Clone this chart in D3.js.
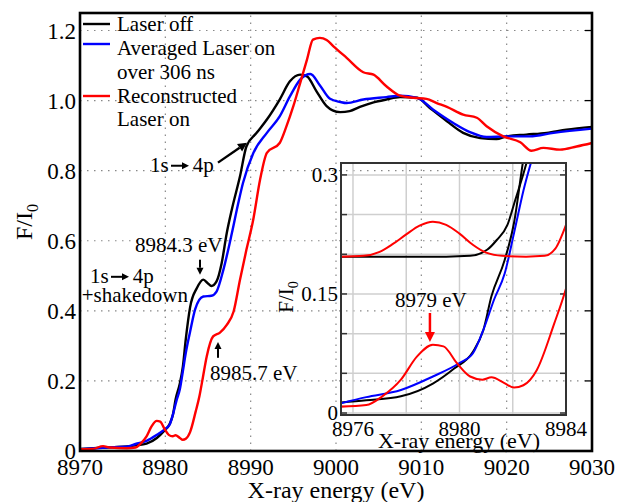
<!DOCTYPE html>
<html>
<head>
<meta charset="UTF-8">
<script src="https://d3js.org/d3.v7.min.js"></script>
</head>
<body style="margin:0">
<script>
// ---- data ----
const offE = [8970, 8972, 8974, 8975.5, 8976.5, 8977.8, 8979, 8979.8, 8980.5, 8980.9, 8981.2, 8981.7, 8982.05, 8982.4, 8982.9, 8983.7, 8984.45, 8985, 8985.4, 8986, 8986.6, 8987.2, 8987.8, 8988.75, 8989.5, 8990.7, 8991.9, 8993.4, 8994.6, 8995.8, 8996.6, 8997.7, 8998.9, 8999.6, 9000.5, 9001.6, 9002.8, 9004.4, 9005.9, 9007.5, 9009.5, 9011, 9013, 9014.9, 9016.9, 9018.8, 9020, 9022.3, 9024.7, 9027, 9030];
const offF = [0.006, 0.009, 0.011, 0.013, 0.016, 0.021, 0.037, 0.056, 0.077, 0.105, 0.147, 0.193, 0.24, 0.32, 0.41, 0.465, 0.489, 0.478, 0.471, 0.484, 0.536, 0.622, 0.69, 0.784, 0.869, 0.908, 0.946, 1.003, 1.055, 1.074, 1.069, 1.027, 0.984, 0.972, 0.967, 0.97, 0.982, 0.995, 1.003, 1.01, 1.008, 0.979, 0.941, 0.908, 0.893, 0.89, 0.898, 0.903, 0.908, 0.917, 0.925];

const avgE = [8970, 8972, 8974, 8975.5, 8976.5, 8977.8, 8979, 8980, 8980.5, 8980.9, 8981.3, 8981.7, 8982.05, 8982.4, 8982.9, 8983.5, 8984.45, 8985.4, 8986, 8986.8, 8987.8, 8988.55, 8989.1, 8990.3, 8991.9, 8993.4, 8994.6, 8995.8, 8997, 8998.1, 8999.3, 9000.5, 9001.25, 9003.2, 9005.9, 9007.5, 9009.5, 9011.4, 9013.75, 9015.7, 9017.65, 9020, 9022.7, 9025.5, 9030];
const avgF = [0.005, 0.008, 0.011, 0.012, 0.02, 0.029, 0.046, 0.063, 0.075, 0.105, 0.143, 0.176, 0.227, 0.28, 0.34, 0.405, 0.441, 0.443, 0.455, 0.517, 0.622, 0.708, 0.765, 0.85, 0.908, 0.955, 1.012, 1.06, 1.076, 1.044, 1.005, 0.996, 0.993, 1.003, 1.01, 1.014, 1.008, 0.974, 0.936, 0.91, 0.896, 0.898, 0.898, 0.908, 0.92];

const recE = [8970, 8971.5, 8972.7, 8973.5, 8975.5, 8976.5, 8977.1, 8977.8, 8978.4, 8979, 8979.4, 8979.9, 8980.4, 8980.86, 8981.2, 8981.67, 8982.05, 8982.4, 8982.9, 8983.56, 8984, 8984.4, 8984.85, 8985.6, 8986.4, 8987.2, 8988, 8988.75, 8989.5, 8990.3, 8991.1, 8991.9, 8993.4, 8994.2, 8995, 8995.8, 8996.6, 8997.3, 8998.1, 8998.9, 8999.7, 9001.25, 9003.2, 9004.4, 9005.9, 9007.5, 9009.1, 9010.6, 9011.8, 9013, 9014.9, 9016.5, 9017.65, 9019.6, 9021.6, 9022.9, 9024.3, 9026.25, 9028.2, 9030];
const recF = [0.005, 0.006, 0.014, 0.01, 0.008, 0.01, 0.021, 0.042, 0.071, 0.086, 0.084, 0.063, 0.046, 0.042, 0.045, 0.038, 0.032, 0.035, 0.054, 0.113, 0.157, 0.21, 0.27, 0.327, 0.338, 0.36, 0.398, 0.489, 0.574, 0.66, 0.774, 0.851, 0.879, 0.927, 0.984, 1.05, 1.117, 1.174, 1.179, 1.173, 1.155, 1.122, 1.081, 1.074, 1.041, 1.014, 1.008, 1.005, 0.993, 0.982, 0.96, 0.951, 0.927, 0.898, 0.881, 0.857, 0.865, 0.86, 0.869, 0.879];

// inset: fitted components, shifted up by 0.2
const fitOffE = [8975.5, 8979.5, 8980.4, 8981.05, 8981.4, 8981.8, 8982.1, 8982.37, 8982.6];
const fitOffF = [0.197, 0.197, 0.198, 0.206, 0.218, 0.237, 0.269, 0.298, 0.325];
const fitRecE = [8975.5, 8976.4, 8977, 8977.5, 8978, 8978.5, 8979, 8979.5, 8980, 8980.5, 8981, 8981.6, 8982.5, 8983.2, 8983.6, 8984];
const fitRecF = [0.197, 0.198, 0.203, 0.213, 0.225, 0.236, 0.241, 0.237, 0.226, 0.212, 0.202, 0.198, 0.197, 0.198, 0.207, 0.237];

const xTicks = [8970, 8980, 8990, 9000, 9010, 9020, 9030];
const yTicks = [0, 0.2, 0.4, 0.6, 0.8, 1.0, 1.2];
const yTickLabels = ["0", "0.2", "0.4", "0.6", "0.8", "1.0", "1.2"];
const insetXTicks = [8976, 8980, 8984];
const insetXGrid = [8976, 8978, 8980, 8982, 8984];
const insetYTicks = [0, 0.15, 0.3];
const insetYTickLabels = ["0", "0.15", "0.3"];
const insetYGrid = [0, 0.05, 0.1, 0.15, 0.2, 0.25, 0.3];

const legendNames = [["Laser off"], ["Averaged Laser on", "over 306 ns"], ["Reconstructed", "Laser on"]];
const colors = ["#000000", "#0000ff", "#ff0000"];

const FONT = "Liberation Serif";

// ---- layout ----
const W = 621, H = 502;
const svg = d3.select("body").append("svg").attr("width", W).attr("height", H);

const x = d3.scaleLinear().domain([8970, 9030]).range([80, 592]);
const y = d3.scaleLinear().domain([0, 1.25]).range([451, 13]);

const line = d3.line().x(d => x(d[0])).y(d => y(d[1])).curve(d3.curveMonotoneX);
const zip = (a, b) => a.map((v, i) => [v, b[i]]);

function txt(parent, px, py, size, s) {
    return parent.append("text").attr("x", px).attr("y", py)
        .attr("font-family", FONT).attr("font-size", size).text(s);
}

// main grid (dotted)
const grid = svg.append("g").attr("stroke", "#888").attr("stroke-width", 1.2).attr("stroke-dasharray", "1.5,5.5");
grid.selectAll(".gx").data(xTicks.slice(1, -1)).join("line").attr("class", "gx")
    .attr("x1", d => x(d)).attr("x2", d => x(d)).attr("y1", y.range()[0]).attr("y2", y.range()[1]);
grid.selectAll(".gy").data(yTicks.slice(1)).join("line").attr("class", "gy")
    .attr("x1", x.range()[0]).attr("x2", x.range()[1]).attr("y1", d => y(d)).attr("y2", d => y(d));

// ---- inset ----
const ix = d3.scaleLinear().domain([8975.55, 8984]).range([341, 566]);
const iy = d3.scaleLinear().domain([-0.0025, 0.315]).range([415, 163]);
const iline = d3.line().x(d => ix(d[0])).y(d => iy(d[1])).curve(d3.curveMonotoneX);

const ig = svg.append("g");
svg.append("clipPath").attr("id", "iclip").append("rect")
    .attr("x", 341).attr("y", 163).attr("width", 225).attr("height", 252);

const igrid = ig.append("g").attr("stroke", "#cfcfcf").attr("stroke-width", 1.5);
igrid.selectAll(".a").data(insetXGrid).join("line").attr("class", "a")
    .attr("x1", d => ix(d)).attr("x2", d => ix(d)).attr("y1", 415).attr("y2", 163);
igrid.selectAll(".b").data(insetYGrid).join("line").attr("class", "b")
    .attr("x1", 341).attr("x2", 566).attr("y1", d => iy(d)).attr("y2", d => iy(d));

// inward ticks on inset
ig.selectAll(".tl").data(insetYGrid).join("line").attr("class", "tl")
    .attr("x1", 341).attr("x2", 347).attr("y1", d => iy(d)).attr("y2", d => iy(d))
    .attr("stroke", "#333").attr("stroke-width", 1.5);
ig.selectAll(".tr").data(insetYGrid).join("line").attr("class", "tr")
    .attr("x1", 560).attr("x2", 566).attr("y1", d => iy(d)).attr("y2", d => iy(d))
    .attr("stroke", "#333").attr("stroke-width", 1.5);

const ic = ig.append("g").attr("clip-path", "url(#iclip)");
[[offE, offF, 0], [avgE, avgF, 1], [recE, recF, 2], [fitOffE, fitOffF, 0], [fitRecE, fitRecF, 2]].forEach(s => {
    ic.append("path").attr("fill", "none").attr("stroke-width", 2).attr("stroke-linejoin", "round")
        .attr("stroke", colors[s[2]])
        .attr("d", iline(zip(s[0], s[1]).filter(d => d[0] >= 8975 && d[0] <= 8985)));
});

ig.append("rect").attr("x", 341).attr("y", 163).attr("width", 225).attr("height", 252)
    .attr("fill", "none").attr("stroke", "#333").attr("stroke-width", 2);

insetXTicks.forEach(d => txt(ig, ix(d), 436, 21, d).attr("text-anchor", "middle"));
insetYTicks.forEach((d, i) => txt(ig, 338, iy(d) + 7, 21, insetYTickLabels[i]).attr("text-anchor", "end"));
txt(ig, 459, 448, 22, "X-ray energy (eV)").attr("text-anchor", "middle");
const iyt = txt(ig, 0, 0, 21, null).attr("transform", "translate(293,297) rotate(-90)")
    .attr("text-anchor", "middle");
iyt.append("tspan").text("F/I");
iyt.append("tspan").attr("font-size", 14).attr("dy", 5).text("0");

txt(ig, ix(8977.58), iy(0.1336), 21, "8979 eV");

// ---- main curves ----
[[offE, offF], [avgE, avgF], [recE, recF]].forEach((s, i) => {
    svg.append("path").attr("fill", "none").attr("stroke-width", 2.4).attr("stroke-linejoin", "round")
        .attr("stroke", colors[i]).attr("d", line(zip(s[0], s[1])));
});

// arrows
function arrow(x1, y1, x2, y2, col, w, hl, hw) {
    const a = Math.atan2(y2 - y1, x2 - x1);
    const bx = x2 - hl * Math.cos(a), by = y2 - hl * Math.sin(a);
    svg.append("line").attr("x1", x1).attr("y1", y1).attr("x2", bx).attr("y2", by)
        .attr("stroke", col).attr("stroke-width", w);
    const px = -Math.sin(a) * hw, py = Math.cos(a) * hw;
    svg.append("path").attr("fill", col)
        .attr("d", `M${x2},${y2}L${bx + px},${by + py}L${bx - px},${by - py}Z`);
}
// red arrow at 8979 eV in the inset
arrow(ix(8978.89), iy(0.126), ix(8978.89), iy(0.0895), "#ff0000", 2.5, 10, 5);

// main frame
svg.append("rect").attr("x", 80).attr("y", 13).attr("width", 512).attr("height", 438)
    .attr("fill", "none").attr("stroke", "#000").attr("stroke-width", 2.6);
svg.selectAll(".rt").data(yTicks.slice(1)).join("line").attr("class", "rt")
    .attr("x1", 585).attr("x2", 592).attr("y1", d => y(d)).attr("y2", d => y(d))
    .attr("stroke", "#000").attr("stroke-width", 1.3);

// tick labels
xTicks.forEach(d => txt(svg, x(d), 475, 23, d).attr("text-anchor", "middle"));
yTicks.forEach((d, i) => txt(svg, 76, y(d) + 8, 23, yTickLabels[i]).attr("text-anchor", "end"));

txt(svg, 336, 498, 24, "X-ray energy (eV)").attr("text-anchor", "middle");
const yt = txt(svg, 0, 0, 24, null).attr("transform", "translate(32,222) rotate(-90)")
    .attr("text-anchor", "middle");
yt.append("tspan").text("F/I");
yt.append("tspan").attr("font-size", 16).attr("dy", 6).text("0");

// legend
const legY = [24, 44, 96];
const legText = [[31], [55, 79], [103, 126]];
legendNames.forEach((names, i) => {
    svg.append("line").attr("x1", 83).attr("x2", 110).attr("y1", legY[i]).attr("y2", legY[i])
        .attr("stroke", colors[i]).attr("stroke-width", 2.4);
    names.forEach((t, j) => txt(svg, 117, legText[i][j], 21, t));
});

// annotations
function label(e, v, s) {
    return txt(svg, x(e), y(v), 21, s);
}
function transition(e, v) {
    const t = txt(svg, x(e), y(v), 21, null);
    t.append("tspan").text("1s");
    t.append("tspan").attr("dx", 24).text("4p");
    const x0 = x(e) + 21, yy = y(v) - 6;
    arrow(x0, yy, x0 + 18, yy, "#000", 2, 7, 3.5);
}
transition(8978.2, 0.797);
arrow(x(8986.17), y(0.823), x(8989.57), y(0.88), "#000", 2.4, 9, 4.5);

label(8976.45, 0.569, "8984.3 eV");
arrow(x(8984.06), y(0.546), x(8984.06), y(0.503), "#000", 2, 7, 3.5);

transition(8971.17, 0.48);
label(8970.2, 0.426, "+shakedown");

label(8985.23, 0.203, "8985.7 eV");
arrow(x(8986.17), y(0.266), x(8986.17), y(0.311), "#000", 2, 7, 3.5);
</script>
</body>
</html>
